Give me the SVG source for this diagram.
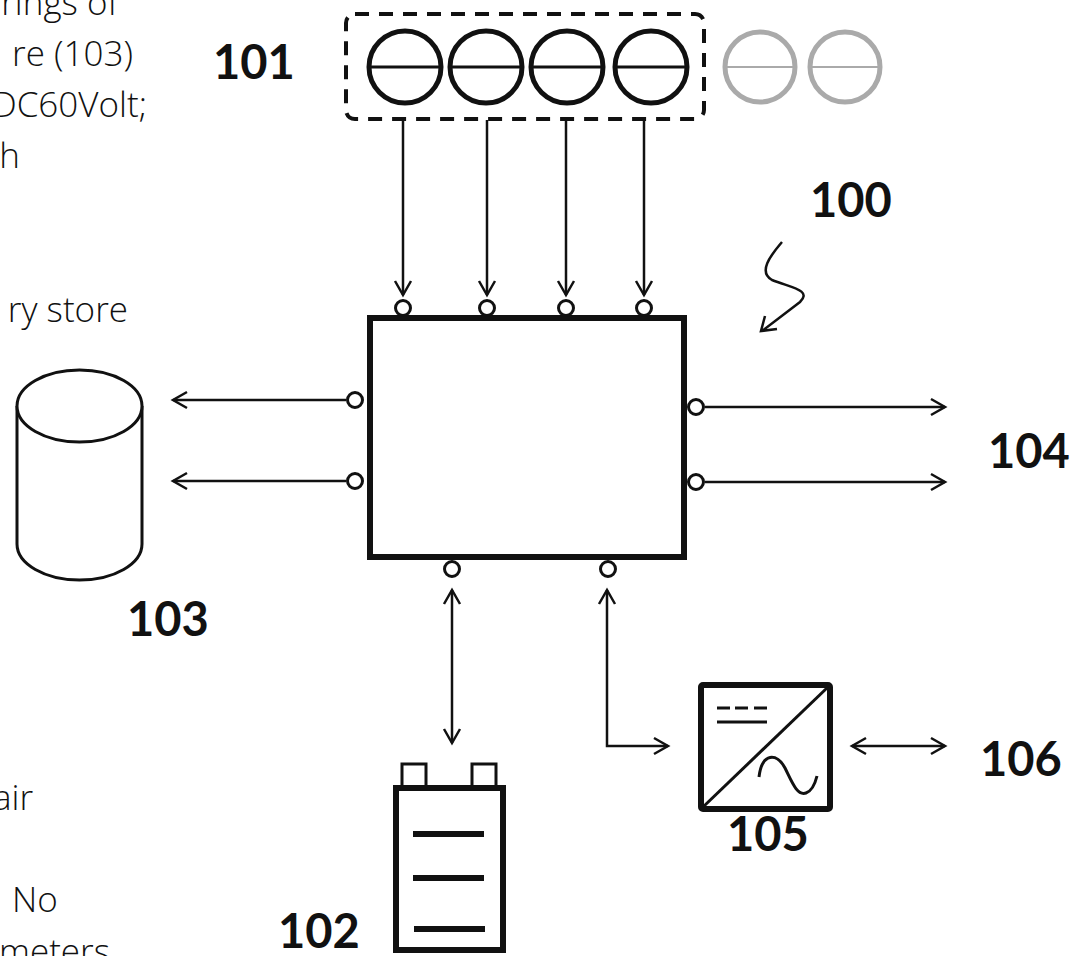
<svg xmlns="http://www.w3.org/2000/svg" width="1085" height="956" viewBox="0 0 1085 956">
<style>
.lbl{font-family:Lato,"Open Sans","Liberation Sans",sans-serif;font-weight:700;font-size:47px;fill:#111}
.txt{font-family:"Open Sans","Noto Sans","Liberation Sans",sans-serif;font-weight:300;font-size:35px;fill:#111}
.ln{stroke:#111;stroke-width:2.5;fill:none}
.port{stroke:#111;stroke-width:3;fill:#fff}
.thick{stroke:#111;stroke-width:6;fill:#fff}
</style>
<defs>
<marker id="ah" markerUnits="userSpaceOnUse" markerWidth="20" markerHeight="20" viewBox="-16 -10 18 20" refX="0" refY="0" orient="auto-start-reverse">
<path d="M-14,-8 L0,0 L-14,8" fill="none" stroke="#111" stroke-width="2.5"/>
</marker>
</defs>
<rect width="1085" height="956" fill="#fff"/>
<g id="left-text">
<text class="txt" x="118" y="15" text-anchor="end">rings of</text>
<text class="txt" x="133" y="66" text-anchor="end">re (103)</text>
<text class="txt" x="147" y="117" text-anchor="end">DC60Volt;</text>
<text class="txt" x="20" y="168" text-anchor="end">h</text>
<text class="txt" x="128" y="322" text-anchor="end">ry store</text>
<text class="txt" x="33" y="810" text-anchor="end">air</text>
<text class="txt" x="12" y="912">No</text>
<text class="txt" x="110" y="964" text-anchor="end">meters</text>
</g>
<g id="connectors">
<line class="ln" x1="403" y1="120" x2="403" y2="295" marker-end="url(#ah)"/>
<line class="ln" x1="487" y1="120" x2="487" y2="295" marker-end="url(#ah)"/>
<line class="ln" x1="566" y1="120" x2="566" y2="295" marker-end="url(#ah)"/>
<line class="ln" x1="644" y1="120" x2="644" y2="295" marker-end="url(#ah)"/>
<line class="ln" x1="346" y1="400" x2="173" y2="400" marker-end="url(#ah)"/>
<line class="ln" x1="346" y1="481" x2="173" y2="481" marker-end="url(#ah)"/>
<line class="ln" x1="705" y1="407" x2="945" y2="407" marker-end="url(#ah)"/>
<line class="ln" x1="705" y1="482" x2="945" y2="482" marker-end="url(#ah)"/>
<line class="ln" x1="452" y1="590" x2="452" y2="743" marker-start="url(#ah)" marker-end="url(#ah)"/>
<path class="ln" d="M607,590 L607,746 L668,746" marker-start="url(#ah)" marker-end="url(#ah)"/>
<line class="ln" x1="852" y1="746" x2="945" y2="746" marker-start="url(#ah)" marker-end="url(#ah)"/>
<path class="ln" stroke-width="3" d="M782,242 C770,256 758,272 772,280 C792,288 812,290 800,302 L762,331"/>
<path class="ln" stroke-width="3" d="M765,316 L761,331 L777,329"/>
</g>
<g id="n101">
<rect x="346" y="14" width="358" height="105" rx="9" fill="none" stroke="#111" stroke-width="4" stroke-dasharray="14 10"/>
<g stroke="#111" fill="none">
<circle cx="405" cy="67" r="36" stroke-width="5"/><line x1="369" y1="67" x2="441" y2="67" stroke-width="3"/>
<circle cx="486" cy="67" r="36" stroke-width="5"/><line x1="450" y1="67" x2="522" y2="67" stroke-width="3"/>
<circle cx="567" cy="67" r="36" stroke-width="5"/><line x1="531" y1="67" x2="603" y2="67" stroke-width="3"/>
<circle cx="651" cy="67" r="36" stroke-width="5"/><line x1="615" y1="67" x2="687" y2="67" stroke-width="3"/>
</g>
<g stroke="#aaa" fill="none">
<circle cx="760" cy="67" r="35" stroke-width="5"/><line x1="725" y1="67" x2="795" y2="67" stroke-width="2"/>
<circle cx="845" cy="67" r="35" stroke-width="5"/><line x1="810" y1="67" x2="880" y2="67" stroke-width="2"/>
</g>
<text class="lbl" x="213" y="79">101</text>
</g>
<g id="n100">
<rect class="thick" x="370" y="318" width="314" height="239"/>
<circle class="port" cx="403" cy="308" r="7.5"/>
<circle class="port" cx="487" cy="308" r="7.5"/>
<circle class="port" cx="566" cy="308" r="7.5"/>
<circle class="port" cx="644" cy="308" r="7.5"/>
<circle class="port" cx="355" cy="400" r="7.5"/>
<circle class="port" cx="355" cy="481" r="7.5"/>
<circle class="port" cx="696" cy="407" r="7.5"/>
<circle class="port" cx="696" cy="482" r="7.5"/>
<circle class="port" cx="452" cy="569" r="7.5"/>
<circle class="port" cx="608" cy="569" r="7.5"/>
<text class="lbl" x="810" y="217">100</text>
</g>
<g id="n103">
<path d="M17,406 L17,544 A62.5,36 0 0 0 142,544 L142,406" fill="#fff" stroke="#111" stroke-width="3"/>
<ellipse cx="79.5" cy="406" rx="62.5" ry="36" fill="#fff" stroke="#111" stroke-width="3"/>
<text class="lbl" x="127" y="636">103</text>
</g>
<g id="n104">
<text class="lbl" x="988" y="468">104</text>
</g>
<g id="n102">
<rect x="402" y="764" width="24" height="24" fill="#fff" stroke="#111" stroke-width="3"/>
<rect x="472" y="764" width="24" height="24" fill="#fff" stroke="#111" stroke-width="3"/>
<rect class="thick" x="396" y="788" width="107" height="162"/>
<g stroke="#111" stroke-width="6">
<line x1="413" y1="834" x2="484" y2="834"/>
<line x1="413" y1="878" x2="484" y2="878"/>
<line x1="414" y1="929" x2="485" y2="929"/>
</g>
<text class="lbl" x="278" y="948">102</text>
</g>
<g id="n105">
<rect class="thick" x="701" y="685" width="129" height="124" rx="2"/>
<g stroke="#111" fill="none">
<line x1="703" y1="807" x2="828" y2="687" stroke-width="3"/>
<path d="M717,708 h13 M735,708 h13 M754,708 h13" stroke-width="3"/>
<line x1="717" y1="722" x2="767" y2="722" stroke-width="3"/>
<path d="M759,777 C762,752 777,753 785,768 C792,782 797,796 806,793 C812,791 815,784 817,776" stroke-width="3"/>
</g>
<text class="lbl" x="727" y="851">105</text>
</g>
<g id="n106">
<text class="lbl" x="980" y="776">106</text>
</g>
</svg>
